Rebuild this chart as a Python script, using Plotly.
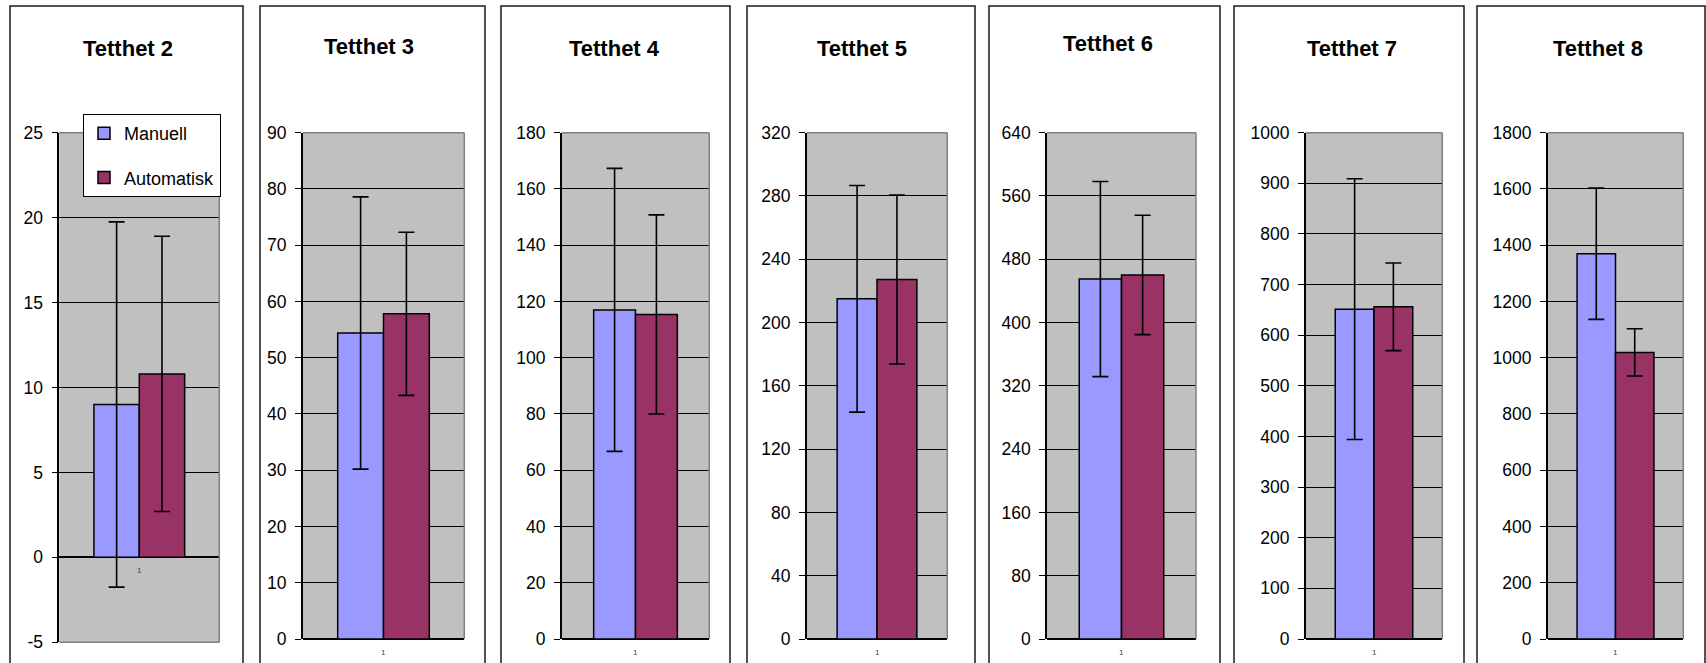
import plotly.graph_objects as go

# ---- data ----
categories = ["1"]
titles = ["Tetthet 2", "Tetthet 3", "Tetthet 4", "Tetthet 5", "Tetthet 6", "Tetthet 7", "Tetthet 8"]
manuell = [9.0, 54.4, 117.0, 215.0, 455.0, 651.5, 1370.0]
manuell_err = [10.75, 24.2, 50.3, 71.6, 123.4, 257.4, 233.5]
automatisk = [10.8, 57.8, 115.4, 227.2, 460.2, 656.0, 1019.0]
automatisk_err = [8.1, 14.5, 35.4, 53.4, 75.4, 86.5, 84.0]
y_min = [-5, 0, 0, 0, 0, 0, 0]
y_max = [25, 90, 180, 320, 640, 1000, 1800]
y_step = [5, 10, 20, 40, 80, 100, 200]

# ---- geometry (pixels in the 1706x663 page) ----
W, H = 1706, 663
plot_x = [(59.3, 219.3), (302.7, 464.3), (561.7, 709.3), (806.7, 947.3),
          (1047.0, 1196.0), (1305.7, 1442.3), (1547.7, 1683.3)]
plot_top = 132.7
plot_bottom = [642.3, 639, 639, 639, 639, 639, 639]
frames = [(10, 243), (260, 485), (501, 730), (747, 975), (989, 1220), (1234, 1464), (1477, 1705)]
title_pos = [(128, 49), (369, 47), (614, 49), (862, 49), (1108, 44), (1352, 49), (1598, 49)]

C_MAN = "#9999FF"
C_AUT = "#993366"
FONT = "Liberation Sans, Arial, sans-serif"

fig = go.Figure()
layout = dict(
    template="none",
    width=W, height=H, autosize=False,
    margin=dict(l=0, r=0, t=0, b=0, pad=0, autoexpand=False),
    paper_bgcolor="white",
    plot_bgcolor="#C0C0C0",
    barmode="group",
    bargap=0.433,
    bargroupgap=0,
    font=dict(family=FONT, size=17, color="black"),
    showlegend=True,
    legend=dict(
        x=83 / W, y=1 - 114 / H, xanchor="left", yanchor="top",
        bgcolor="white", bordercolor="black", borderwidth=1,
        font=dict(family=FONT, size=18, color="black"),
        traceorder="grouped", tracegroupgap=18,
        itemwidth=30,
    ),
)
shapes = []
annotations = []

for i in range(7):
    n = "" if i == 0 else str(i + 1)
    xa, ya = "x" + n, "y" + n
    fig.add_trace(go.Bar(
        x=categories, y=[manuell[i]], name="Manuell", xaxis=xa, yaxis=ya,
        marker=dict(color=C_MAN, line=dict(color="black", width=1.5)),
        error_y=dict(type="data", array=[manuell_err[i]], visible=True,
                     color="black", thickness=1.6, width=8),
        showlegend=(i == 0), legendgroup="m", hoverinfo="y",
    ))
    fig.add_trace(go.Bar(
        x=categories, y=[automatisk[i]], name="Automatisk", xaxis=xa, yaxis=ya,
        marker=dict(color=C_AUT, line=dict(color="black", width=1.5)),
        error_y=dict(type="data", array=[automatisk_err[i]], visible=True,
                     color="black", thickness=1.6, width=8),
        showlegend=(i == 0), legendgroup="a", hoverinfo="y",
    ))
    x0, x1 = plot_x[i]
    tickvals = list(range(y_min[i], y_max[i] + 1, y_step[i]))
    layout["xaxis" + n] = dict(
        domain=[x0 / W, x1 / W], anchor=ya, type="category",
        range=[-0.5, 0.5], automargin=False,
        showticklabels=False, showgrid=False, showline=False, ticks="",
        zeroline=False, fixedrange=True,
    )
    layout["yaxis" + n] = dict(
        domain=[1 - plot_bottom[i] / H, 1 - plot_top / H], anchor=xa,
        range=[y_min[i], y_max[i]], tickmode="array",
        tickvals=tickvals, ticktext=[str(v) for v in tickvals],
        automargin=False,
        showgrid=True, gridcolor="black", gridwidth=1,
        zeroline=True, zerolinecolor="black", zerolinewidth=1.5,
        showline=True, linecolor="black", linewidth=1.5,
        ticks="outside", ticklen=6, tickwidth=1, tickcolor="black",
        ticklabelstandoff=5,
        tickfont=dict(family=FONT, size=17.5, color="black"),
        fixedrange=True,
    )
    # grey plot-area border (top and right; bottom too when axis crosses inside)
    shapes.append(dict(type="line", xref=xa + " domain", yref=ya + " domain",
                       x0=0, x1=1, y0=1, y1=1, line=dict(color="#808080", width=1.5), layer="above"))
    shapes.append(dict(type="line", xref=xa + " domain", yref=ya + " domain",
                       x0=1, x1=1, y0=0, y1=1, line=dict(color="#808080", width=1.5), layer="above"))
    if y_min[i] < 0:
        shapes.append(dict(type="line", xref=xa + " domain", yref=ya + " domain",
                           x0=0, x1=1, y0=0, y1=0, line=dict(color="#808080", width=1.5), layer="above"))
    # chart frame
    f0, f1 = frames[i]
    shapes.append(dict(type="rect", xref="paper", yref="paper",
                       x0=f0 / W, x1=f1 / W, y0=-0.2, y1=1 - 6 / H,
                       line=dict(color="#1a1a1a", width=1.5), fillcolor="rgba(0,0,0,0)"))
    # title
    tx, ty = title_pos[i]
    annotations.append(dict(text="<b>" + titles[i] + "</b>", xref="paper", yref="paper",
                            x=tx / W, y=1 - ty / H, xanchor="center", yanchor="middle",
                            showarrow=False, font=dict(family=FONT, size=22, color="black")))
    # category label next to the category axis
    annotations.append(dict(text=categories[0], xref=xa, yref=ya, x=0, y=0,
                            yshift=-13, showarrow=False, xanchor="center", yanchor="middle",
                            font=dict(family=FONT, size=8, color="#444444")))

layout["shapes"] = shapes
layout["annotations"] = annotations
fig.update_layout(**layout)
fig.write_html("out.html",
               config={"displayModeBar": False},
               default_width="1706px", default_height="663px",
               post_script="document.body.style.margin='0';document.body.style.overflow='hidden';")
